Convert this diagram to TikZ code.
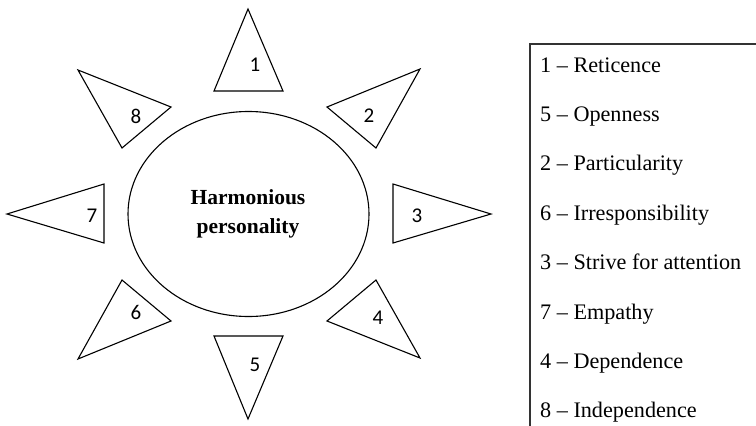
\documentclass[tikz,border=0pt]{standalone}
\usepackage{fontspec}
\setmainfont{Liberation Serif}
\newfontfamily\numfont{Carlito}
\begin{document}
\begin{tikzpicture}[x=1pt,y=-1pt,
  outl/.style={draw=black,line width=1.1pt,line join=miter},
  numlbl/.style={font=\numfont\fontsize{21}{24}\selectfont,inner sep=0pt},
  titletxt/.style={font=\bfseries\fontsize{21.5}{26}\selectfont,inner sep=0pt,anchor=base},
  legendtxt/.style={font=\fontsize{22.2}{26}\selectfont,inner sep=0pt,anchor=base west},
  legline/.style={draw=black!80,line width=1.1pt}]
\useasboundingbox (0,0) rectangle (756,426);
% central ellipse
\draw[outl] (248.5,214) ellipse [x radius=120.5, y radius=102.5];
\node[titletxt] (h1) at (248,204) {Harmonious};
\node[titletxt] (h2) at (248,233) {personality};
% triangles
\draw[outl] (248,9) -- (283,91) -- (214,91) -- cycle;
\node[numlbl] (n1) at (255,65) {1};
\draw[outl] (327,107) -- (420,69) -- (376,148) -- cycle;
\node[numlbl] (n2) at (369,116) {2};
\draw[outl] (393,184) -- (491,214) -- (393,243) -- cycle;
\node[numlbl] (n3) at (417,216) {3};
\draw[outl] (327,321) -- (376,280) -- (420,358) -- cycle;
\node[numlbl] (n4) at (378,318) {4};
\draw[outl] (214,336) -- (283,336) -- (248,419) -- cycle;
\node[numlbl] (n5) at (255,365) {5};
\draw[outl] (122,280) -- (171,321) -- (78,359) -- cycle;
\node[numlbl] (n6) at (136,312) {6};
\draw[outl] (104,184) -- (7,214) -- (104,243) -- cycle;
\node[numlbl] (n7) at (92,216) {7};
\draw[outl] (78,70) -- (171,107) -- (122,148) -- cycle;
\node[numlbl] (n8) at (136,116) {8};
% legend
\coordinate (lb) at (530,426);
\coordinate (lt) at (530,44);
\coordinate (rt) at (756,44);
\draw[legline] (lb) -- (lt) -- (rt);
\node[legendtxt] (l1) at (540,72) {1 -- Reticence};
\node[legendtxt] (l5) at (540,121.4) {5 -- Openness};
\node[legendtxt] (l2) at (540,170.8) {2 -- Particularity};
\node[legendtxt] (l6) at (540,220.2) {6 -- Irresponsibility};
\node[legendtxt] (l3) at (540,269.6) {3 -- Strive for attention};
\node[legendtxt] (l7) at (540,319) {7 -- Empathy};
\node[legendtxt] (l4) at (540,368.4) {4 -- Dependence};
\node[legendtxt] (l8) at (540,417.8) {8 -- Independence};
\end{tikzpicture}
\end{document}
